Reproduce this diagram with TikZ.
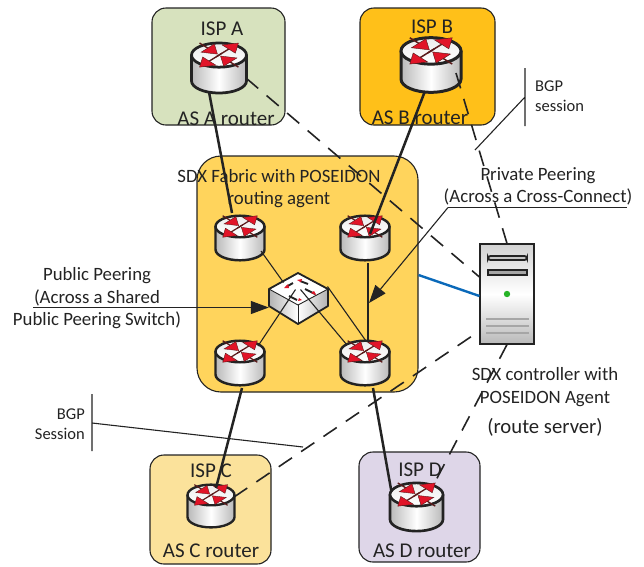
\documentclass[tikz,border=0pt]{standalone}
\usepackage{fontspec}
\setmainfont{Carlito}
\usetikzlibrary{arrows.meta,calc}
\definecolor{ispa}{RGB}{215,226,190}
\definecolor{ispb}{RGB}{255,192,25}
\definecolor{sdx}{RGB}{255,212,92}
\definecolor{ispc}{RGB}{251,226,155}
\definecolor{ispd}{RGB}{222,214,232}
\definecolor{ink}{RGB}{35,35,35}
\definecolor{arrowred}{RGB}{225,20,40}
\definecolor{bluelink}{RGB}{10,105,185}
\tikzset{
  ispbox/.style={draw=ink,line width=1.1pt,rounded corners=14pt,inner sep=0pt},
  lbl/.style={text=ink,inner sep=0pt,align=center,font=\fontsize{18.8}{22.5}\selectfont},
  boxlbl/.style={text=ink,inner sep=0pt,align=center,font=\fontsize{21}{24}\selectfont},
  smalllbl/.style={text=ink,inner sep=0pt,font=\fontsize{16.5}{20}\selectfont},
  thickline/.style={ink,line width=2.5pt},
  thinline/.style={ink,line width=1.1pt},
  dashline/.style={ink,line width=1.6pt,dash pattern=on 16pt off 11pt},
  callout/.style={ink,line width=1.1pt},
  bigtip/.style={-{Triangle[length=18pt,width=13pt]}},
}
% #1 name, #2 x, #3 y, #4 half width (pixels)
\newcommand{\routerat}[4]{%
  \node[inner sep=0pt,minimum width=2*#4pt,minimum height=1.82*#4pt] (#1) at (#2,#3) {};
  \begin{scope}[shift={(#2,#3)},x=#4pt,y=#4pt]
    \path[left color=gray!55,right color=gray!55,middle color=white]
      (-1,.47) -- (-1,-.47) arc[start angle=180,end angle=360,x radius=1,y radius=.44] -- (1,.47) -- cycle;
    \draw[ink,line width=.1*#4pt]
      (-1,.47) -- (-1,-.47) arc[start angle=180,end angle=360,x radius=1,y radius=.44] -- (1,.47);
    \draw[ink,line width=.1*#4pt,top color=gray!15,bottom color=white] (0,.47) ellipse[x radius=1,y radius=.44];
    \begin{scope}[shift={(0,.47)},yscale=.62]
      \foreach \a in {45,225}{
        \draw[rotate=\a,ink!75!red,line width=.05*#4pt] (-.15,0) -- (.6,0);
        \fill[rotate=\a,arrowred,draw=ink!75!red,line width=.015*#4pt] (1,0) -- (.5,.34) -- (.5,-.34) -- cycle;
      }
      \foreach \a in {135,315}{
        \draw[rotate=\a,ink!75!red,line width=.05*#4pt] (.3,0) -- (1,0);
        \fill[rotate=\a,arrowred,draw=ink!75!red,line width=.015*#4pt] (.08,0) -- (.58,.34) -- (.58,-.34) -- cycle;
      }
    \end{scope}
  \end{scope}
}
\begin{document}
\begin{tikzpicture}[x=1pt,y=-1pt]
\useasboundingbox (0,0) rectangle (644,566);
% boxes
\node[ispbox,fill=ispa,minimum width=133pt,minimum height=117pt] (boxA) at (218.5,66.5) {};
\node[ispbox,fill=ispb,minimum width=135pt,minimum height=117pt] (boxB) at (427.5,66.5) {};
\node[ispbox,fill=sdx,rounded corners=24pt,minimum width=221pt,minimum height=236pt] (boxS) at (307.5,274) {};
\node[ispbox,fill=ispc,minimum width=121pt,minimum height=109pt] (boxC) at (210.5,509.5) {};
\node[ispbox,fill=ispd,minimum width=121pt,minimum height=110pt] (boxD) at (419.5,507) {};
% routers
\routerat{rA}{219}{68}{27.5}
\routerat{rB}{431}{65}{30}
\routerat{rTL}{240}{238}{24.5}
\routerat{rTR}{365}{238}{24.5}
\routerat{rBL}{240}{363}{24.5}
\routerat{rBR}{365}{363}{24.5}
\routerat{rC}{211}{506}{23.5}
\routerat{rD}{416.5}{507}{26.5}
% switch
\node[inner sep=0pt,minimum width=59pt,minimum height=51pt] (sw) at (298.5,298.5) {};
\path[left color=gray!60,right color=white] (269,289) -- (298,305) -- (298,324) -- (269,306) -- cycle;
\path[left color=white,right color=gray!60] (298,305) -- (328,289) -- (328,306) -- (298,324) -- cycle;
\fill[white,draw=ink,line width=.9pt] (298,273) -- (328,289) -- (298,305) -- (269,289) -- cycle;
\draw[ink,line width=1.8pt,line join=round] (298,273) -- (328,289) -- (328,306) -- (298,324) -- (269,306) -- (269,289) -- cycle;
\draw[ink,line width=.7pt] (298,305) -- (298,324);
\draw[ink,line width=1.9pt] (300,281) -- (308,284) (286,287) -- (293,283) (305,289) -- (315,294) (289,296) -- (297,300);
\fill[arrowred] (297,280) -- (302,279) -- (301,282) -- cycle (284,288) -- (288,284) -- (289,288) -- cycle (316,295) -- (311,293) -- (314,291) -- cycle (298,301) -- (302,300) -- (299,298) -- cycle;
% server
\node[draw=ink,line width=1.1pt,top color=gray!35,bottom color=gray!55,middle color=white,inner sep=0pt,minimum width=54pt,minimum height=100pt] (srv) at (507,294) {};
\draw[ink,fill=gray!45,line width=1.8pt,rounded corners=2.5pt] (488,256) rectangle (527,260);
\draw[ink,fill=gray!70,line width=1.8pt] (488,270) rectangle (527,275);
\fill[green!65!black!85!white] (507,294) circle[radius=3.2pt];
\foreach \yy in {319,326,333}{\draw[gray!70,line width=1.1pt] (486,\yy) -- (529,\yy);}
% links
\draw[thinline] ($(rTL)+(21,13)$) -- ($(sw)+(-15,-16)$);
\draw[thinline] ($(rTR)+(3,25)$) -- ($(rBR)+(3,-21)$);
\draw[thinline] ($(sw)+(29,-12)$) -- ($(rBR)+(1,-22)$);
\draw[thinline] ($(sw)+(2,-9)$) -- ($(rBR)+(-18,-18)$);
\draw[thinline] ($(sw)+(-3,-9)$) -- ($(rBL)+(18,-17)$);
\draw[thickline] ($(rA)+(-10,24)$) -- ($(rTL)+(-8,-25)$);
\draw[thickline] ($(rB)+(-6,26)$) -- ($(rTR)+(5,-4)$);
\draw[thickline] ($(rBL)+(2,25)$) -- ($(rC)+(5,-18)$);
\draw[thickline] ($(rBR)+(8,25)$) -- ($(rD)+(-25,-15)$);
\draw[bluelink,line width=2.4pt] (boxS.east|-0,275) -- (srv.west|-0,296);
\draw[dashline] ($(rA)+(27,10)$) -- (srv.west|-0,277);
\draw[dashline] ($(rB)+(25,8)$) -- (srv.north);
\draw[dashline] (srv.south) -- ($(rD)+(18,-24)$);
\draw[dashline] ($(rC)+(23,-9)$) -- (srv.west|-0,331);
% call-outs
\coordinate (pubstart) at (33,307.5);
\draw[callout,bigtip] (pubstart) -- (sw.west|-0,307.5);
\coordinate (privL) at (448,207.5);
\coordinate (privR) at (627,207.5);
\coordinate (privtip) at (369,303);
\draw[callout] (privR) -- (privL);
\draw[callout,bigtip] (privL) -- (privtip);
\coordinate (bgp1a) at (525,68); \coordinate (bgp1b) at (525,126);
\coordinate (bgp1c) at (525,97); \coordinate (bgp1d) at (475,150);
\draw[callout] (bgp1a) -- (bgp1b) (bgp1c) -- (bgp1d);
\coordinate (bgp2a) at (92,394); \coordinate (bgp2b) at (92,451);
\coordinate (bgp2c) at (92,423); \coordinate (bgp2d) at (303,447);
\draw[callout] (bgp2a) -- (bgp2b) (bgp2c) -- (bgp2d);
% text
\node[boxlbl] (tA) at (222,29) {ISP A};
\node[boxlbl] (tAr) at (226,119) {AS A router};
\node[boxlbl] (tB) at (432,27) {ISP B};
\node[boxlbl] (tBr) at (420,118) {AS B router};
\node[boxlbl] (tC) at (211,471) {ISP C};
\node[boxlbl] (tCr) at (211,551) {AS C router};
\node[boxlbl] (tD) at (420,470) {ISP D};
\node[boxlbl] (tDr) at (422,551) {AS D router};
\node[lbl] (tS) at (279,188.5) {SDX Fabric with POSEIDON\\routing agent};
\node[lbl] (tPriv) at (538,186.5) {Private Peering\\(Across a Cross-Connect)};
\node[lbl] (tPub) at (97,298.5) {Public Peering\\(Across a Shared\\Public Peering Switch)};
\node[lbl] (tCtl) at (545,387) {SDX controller with\\POSEIDON Agent};
\node[lbl,font=\fontsize{20.7}{24}\selectfont] (tRs) at (545,427) {(route server)};
\node[smalllbl,align=left,anchor=west] (tBgp1) at (535,96.5) {BGP\\session};
\node[smalllbl,align=right,anchor=east] (tBgp2) at (85,424) {BGP\\Session};
\end{tikzpicture}
\end{document}
